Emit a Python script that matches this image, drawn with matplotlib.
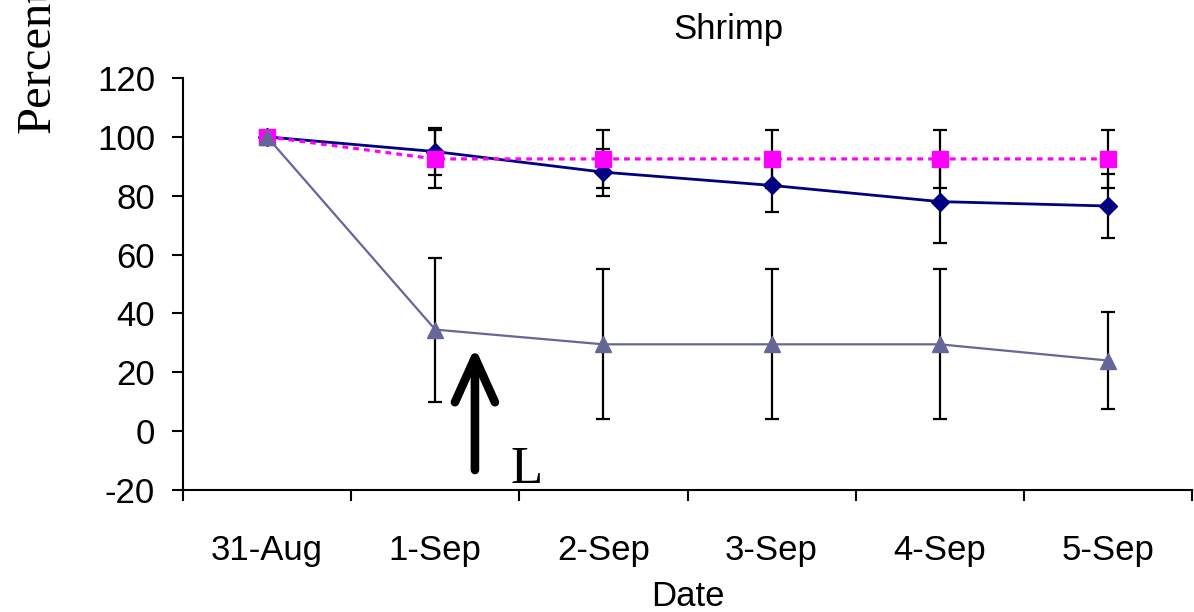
import matplotlib
matplotlib.use("Agg")
import matplotlib.pyplot as plt
import numpy as np

dates = ['31-Aug', '1-Sep', '2-Sep', '3-Sep', '4-Sep', '5-Sep']
diamond = [100, 95, 88, 83.5, 78, 76.5]
diamond_err = [0, 8, 8, 9, 14, 11]
square = [100, 92.5, 92.5, 92.5, 92.5, 92.5]
square_err = [0, 10, 10, 10, 10, 10]
triangle = [100, 34.5, 29.5, 29.5, 29.5, 24]
triangle_err = [0, 24.5, 25.5, 25.5, 25.5, 16.5]
yticks = [-20, 0, 20, 40, 60, 80, 100, 120]

W, H = 1194, 612
fig = plt.figure(figsize=(W / 100, H / 100), dpi=100)
ax = fig.add_axes([183 / W, 1 - 490 / H, (1192 - 183) / W, (490 - 78) / H])

sans = 'Liberation Sans'
serif = 'Liberation Serif'

x = np.arange(len(dates))

ebkw = dict(fmt='none', ecolor='black', elinewidth=1.6, capsize=5, capthick=1.6, zorder=2)
ax.errorbar(x, diamond, yerr=diamond_err, **ebkw)
ax.errorbar(x, square, yerr=square_err, **ebkw)
ax.errorbar(x, triangle, yerr=triangle_err, **ebkw)

ax.plot(x, diamond, color='#000080', lw=2.0, marker='D', ms=9.5,
        mfc='#000080', mec='#000080', zorder=3)
ax.plot(x, square, color='#FF00FF', lw=2.3, linestyle=(0, (1.8, 1.6)),
        dash_capstyle='butt', marker='s', ms=11, mfc='#FF00FF', mec='#FF00FF', zorder=4)
ax.plot(x, triangle, color='#666699', lw=1.6, marker='^', ms=12,
        mfc='#666699', mec='#666699', zorder=5)

ax.set_xlim(-0.5, len(dates) - 0.5)
ax.set_ylim(-20, 120)
ax.set_yticks(yticks)
ax.set_yticklabels([str(v) for v in yticks], fontsize=25, family=sans)

ax.set_xticks(np.arange(len(dates) + 1) - 0.5)
ax.set_xticklabels([])
ax.set_xticks(x, minor=True)
ax.set_xticklabels(dates, minor=True, fontsize=25, family=sans)
ax.tick_params(axis='x', which='major', length=8, width=1.5, direction='out')
ax.tick_params(axis='x', which='minor', length=0, pad=32)
ax.tick_params(axis='y', length=8, width=1.5, direction='out', pad=12)

for s in ['top', 'right']:
    ax.spines[s].set_visible(False)
for s in ['left', 'bottom']:
    ax.spines[s].set_linewidth(1.5)

# Arrow marker and "L" annotation
ax.annotate('', xy=(1.236, 28.5), xytext=(1.236, -13.2),
            arrowprops=dict(arrowstyle='->,head_length=1.6,head_width=0.72',
                            lw=6.2, color='black', shrinkA=0, shrinkB=0,
                            mutation_scale=20, capstyle='round', joinstyle='round'),
            zorder=6)
ax.text(1.45, -17.6, 'L', fontsize=38, family=serif, ha='left', va='baseline')

fig.text(728 / W, 1 - 30 / H, 'Shrimp', fontsize=25, family=sans, ha='center', va='center')
fig.text(688 / W, 1 - 597 / H, 'Date', fontsize=25, family=sans, ha='center', va='center')
fig.text(50 / W, 1 - 133 / H, 'Percent', fontsize=35, family=serif, rotation=90,
         rotation_mode='anchor', ha='left', va='baseline')

fig.savefig('out.png', dpi=100)
